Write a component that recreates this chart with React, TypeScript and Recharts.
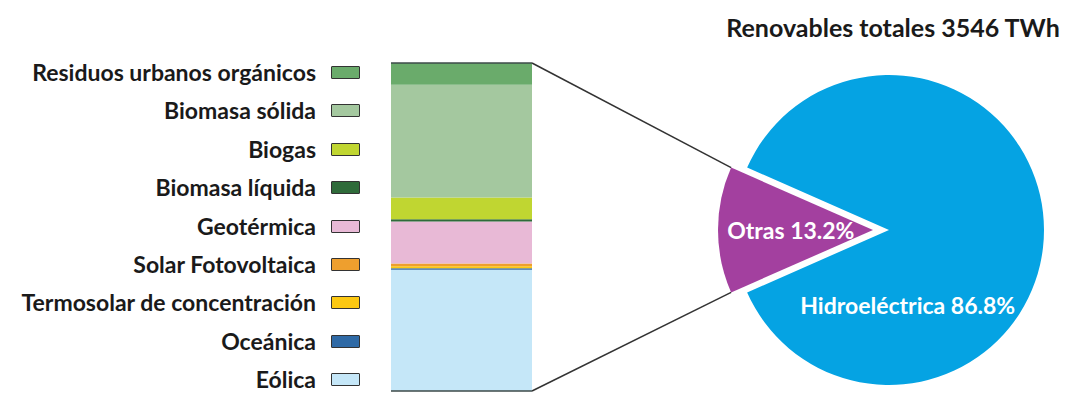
import { BarChart, Bar, XAxis, YAxis, ReferenceLine, PieChart, Pie, Cell } from "recharts";

// Desglose de "Otras" renovables, de abajo arriba en la barra (TWh)
const SOURCES = [
  "Eólica",
  "Oceánica",
  "Termosolar de concentración",
  "Solar Fotovoltaica",
  "Geotérmica",
  "Biomasa líquida",
  "Biogas",
  "Biomasa sólida",
  "Residuos urbanos orgánicos",
];
const SOURCE_TWH = [173, 2, 3, 4, 60, 3, 31, 161, 31];
const SOURCE_COLORS = [
  "#c5e7f8",
  "#2f6aa6",
  "#fcc812",
  "#ee9f2e",
  "#e8b9d6",
  "#2f6b3a",
  "#c0d631",
  "#a4c89f",
  "#6aab6b",
];

const PIE_NAMES = ["Otras", "Hidroeléctrica"];
const HIDRO_TWH = 3078;
const PIE_COLORS = ["#a3409f", "#05a3e3"];

const W = 1069;
const H = 394;
const FONT = "Lato, 'Open Sans', sans-serif";

const BAR_LEFT = 391;
const BAR_RIGHT = 532;
const BAR_TOP = 63;
const BAR_BOTTOM = 391;

const PIE_CX = 889;
const PIE_CY = 230;
const PIE_R = 155;
const EXPLODE = 16;

const LEGEND_RIGHT = 316;
const LEGEND_TOP = 72;
const LEGEND_STEP = 38.4;

const LABEL_PLACE: Record<string, { r: number; shift: number }> = {
  Otras: { r: 0.53, shift: 0 },
  Hidroeléctrica: { r: 0.5, shift: -76 },
};

const otrasTotal = SOURCE_TWH.reduce((a, b) => a + b, 0);
const pieValues = [otrasTotal, HIDRO_TWH];
const grandTotal = pieValues.reduce((a, b) => a + b, 0);
const pieData = PIE_NAMES.map((name, i) => ({ name, value: pieValues[i] }));

const barRow: Record<string, number | string> = { cat: "Otras" };
SOURCES.forEach((_, i) => {
  barRow[`s${i}`] = SOURCE_TWH[i];
});
const barData = [barRow];

// Otras centrada a la izquierda (180°)
const otrasShare = otrasTotal / grandTotal;
const START = 180 - otrasShare * 180;
const END = START + 360;

const RAD = Math.PI / 180;

const makeLabel = (visible: string) => (props: any) => {
  const { cx, cy, midAngle, outerRadius, percent } = props;
  const name = props.name ?? props.payload?.name;
  if (name !== visible) return null;
  const place = LABEL_PLACE[name];
  const ang = (midAngle + place.shift) * RAD;
  const x = cx + outerRadius * place.r * Math.cos(-ang);
  const y = cy + outerRadius * place.r * Math.sin(-ang);
  return (
    <text
      x={x}
      y={y}
      fill="#ffffff"
      textAnchor="middle"
      dominantBaseline="central"
      fontFamily={FONT}
      fontWeight={700}
      fontSize={23}
    >
      {`${name} ${(percent * 100).toFixed(1)}%`}
    </text>
  );
};

function Connectors() {
  const ox = PIE_CX - EXPLODE;
  const a1 = START * RAD;
  const a2 = (START + otrasShare * 360) * RAD;
  const p1 = { x: ox + PIE_R * Math.cos(a1), y: PIE_CY - PIE_R * Math.sin(a1) };
  const p2 = { x: ox + PIE_R * Math.cos(a2), y: PIE_CY - PIE_R * Math.sin(a2) };
  return (
    <svg width={W} height={H} style={{ position: "absolute", left: 0, top: 0 }}>
      <line x1={BAR_RIGHT} y1={BAR_TOP} x2={p1.x} y2={p1.y} stroke="#333" strokeWidth={1.5} />
      <line x1={BAR_RIGHT} y1={BAR_BOTTOM} x2={p2.x} y2={p2.y} stroke="#333" strokeWidth={1.5} />
    </svg>
  );
}

function SourceLegend() {
  const rows = SOURCES.map((name, i) => ({ name, color: SOURCE_COLORS[i] })).reverse();
  return (
    <div style={{ position: "absolute", left: 0, top: 0, width: W, height: H }}>
      {rows.map((row, i) => {
        const cy = LEGEND_TOP + i * LEGEND_STEP;
        return (
          <div key={row.name}>
            <div
              style={{
                position: "absolute",
                right: W - LEGEND_RIGHT,
                top: cy - 11,
                height: 22,
                lineHeight: "22px",
                whiteSpace: "nowrap",
                fontFamily: FONT,
                fontWeight: 700,
                fontSize: 23,
                color: "#1a1a1a",
              }}
            >
              {row.name}
            </div>
            <div
              style={{
                position: "absolute",
                left: 331,
                top: cy - 6,
                width: 27,
                height: 11,
                background: row.color,
                border: "1.5px solid #333",
                borderRadius: 1,
              }}
            />
          </div>
        );
      })}
    </div>
  );
}

export default function App() {
  return (
    <div
      style={{
        position: "absolute",
        left: 0,
        top: 0,
        width: W,
        height: H,
        background: "#ffffff",
        overflow: "hidden",
      }}
    >
      <SourceLegend />
      <Connectors />
      <div style={{ position: "absolute", left: 0, top: 0 }}>
        <BarChart
          width={W}
          height={H}
          data={barData}
          barCategoryGap={0}
          margin={{ top: BAR_TOP, bottom: H - BAR_BOTTOM, left: BAR_LEFT, right: W - BAR_RIGHT }}
        >
          <XAxis dataKey="cat" hide />
          <YAxis type="number" domain={[0, otrasTotal]} hide />
          {SOURCES.map((name, i) => (
            <Bar
              key={name}
              dataKey={`s${i}`}
              name={name}
              stackId="otras"
              fill={SOURCE_COLORS[i]}
              isAnimationActive={false}
            />
          ))}
          <ReferenceLine y={0} stroke="#3d4a48" strokeWidth={1.5} />
          <ReferenceLine y={otrasTotal} stroke="#3d4a48" strokeWidth={1.5} />
        </BarChart>
      </div>
      <div style={{ position: "absolute", left: 0, top: 0 }}>
        <PieChart width={W} height={H} margin={{ top: 0, right: 0, bottom: 0, left: 0 }}>
          <Pie
            data={pieData}
            dataKey="value"
            nameKey="name"
            cx={PIE_CX}
            cy={PIE_CY}
            outerRadius={PIE_R}
            startAngle={START}
            endAngle={END}
            label={makeLabel("Hidroeléctrica")}
            labelLine={false}
            isAnimationActive={false}
          >
            {pieData.map((d, i) => (
              <Cell key={d.name} fill={i === 1 ? PIE_COLORS[1] : "transparent"} stroke="none" />
            ))}
          </Pie>
          <Pie
            data={pieData}
            dataKey="value"
            nameKey="name"
            cx={PIE_CX - EXPLODE}
            cy={PIE_CY}
            outerRadius={PIE_R}
            startAngle={START}
            endAngle={END}
            label={makeLabel("Otras")}
            labelLine={false}
            isAnimationActive={false}
          >
            {pieData.map((d, i) => (
              <Cell key={d.name} fill={i === 0 ? PIE_COLORS[0] : "transparent"} stroke="none" />
            ))}
          </Pie>
        </PieChart>
      </div>
      <div
        style={{
          position: "absolute",
          left: 893 - 220,
          top: 27 - 16,
          width: 440,
          height: 32,
          lineHeight: "32px",
          textAlign: "center",
          fontFamily: FONT,
          fontWeight: 700,
          fontSize: 25,
          color: "#1a1a1a",
        }}
      >
        {`Renovables totales ${grandTotal} TWh`}
      </div>
    </div>
  );
}
